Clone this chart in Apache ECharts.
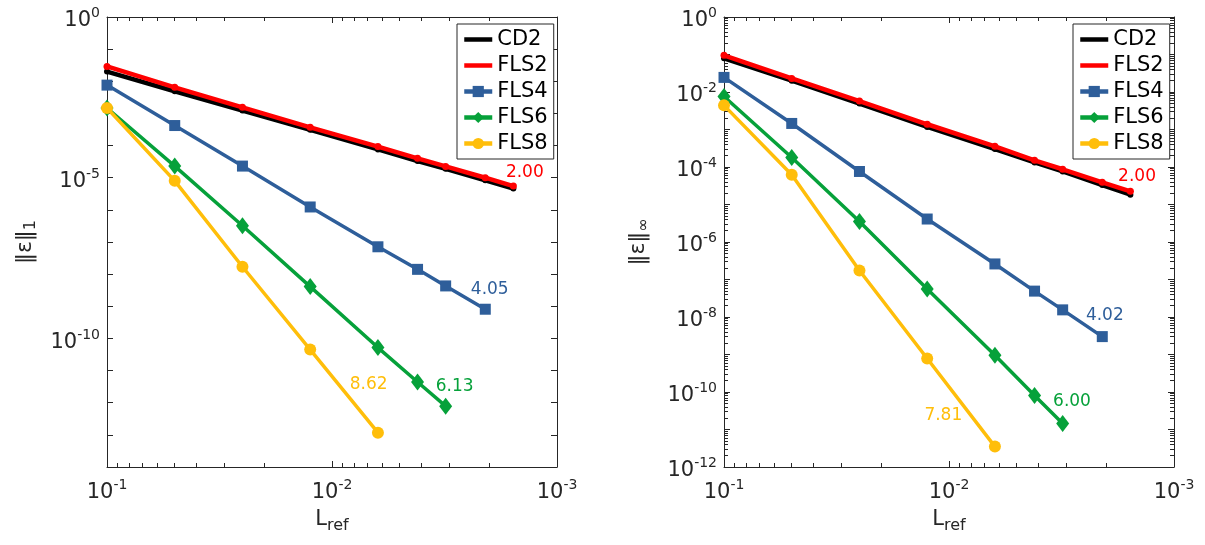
<!DOCTYPE html>
<html style="height: 100%">

<head>
    <meta charset="utf-8">
    <title>FLS convergence</title>
    <script type="text/javascript" src="https://cdn.jsdelivr.net/npm/echarts@6/dist/echarts.min.js"></script>
</head>

<body style="height: 100%; margin: 0; background: #fff">
    <div id="container" style="width: 1205px; height: 545px"></div>

    <script type="text/javascript">
        // grid spacing (x axis, both panels)
        var Lref = [0.1, 0.05, 0.025, 0.0125, 0.00625, 0.0041667, 0.003125, 0.0020833, 0.0015625];
        var names = ['CD2', 'FLS2', 'FLS4', 'FLS6', 'FLS8'];

        // ||e||_1 , left panel
        var cd2_L1 = [2.0e-2, 4.9e-3, 1.23e-3, 3.1e-4, 7.6e-5, 3.3e-5, 1.9e-5, 8.3e-6, 4.6e-6];
        var fls2_L1 = [2.9e-2, 6.5e-3, 1.55e-3, 3.7e-4, 9.3e-5, 4.0e-5, 2.24e-5, 1.0e-5, 5.5e-6];
        var fls4_L1 = [7.6e-3, 4.2e-4, 2.3e-5, 1.23e-6, 7.1e-8, 1.41e-8, 4.3e-9, 8.1e-10];
        var fls6_L1 = [1.48e-3, 2.3e-5, 3.2e-7, 4.1e-9, 5.2e-11, 4.4e-12, 7.8e-13];
        var fls8_L1 = [1.48e-3, 8.0e-6, 1.7e-8, 4.5e-11, 1.17e-13];

        // ||e||_inf , right panel
        var cd2_Linf = [7.9e-2, 2.0e-2, 4.9e-3, 1.17e-3, 3.0e-4, 1.32e-4, 7.6e-5, 3.3e-5, 1.82e-5];
        var fls2_Linf = [9.5e-2, 2.3e-2, 5.75e-3, 1.38e-3, 3.55e-4, 1.51e-4, 8.7e-5, 3.9e-5, 2.24e-5];
        var fls4_Linf = [2.45e-2, 1.45e-3, 7.6e-5, 4.1e-6, 2.6e-7, 4.9e-8, 1.55e-8, 3.0e-9];
        var fls6_Linf = [7.6e-3, 1.8e-4, 3.5e-6, 5.6e-8, 9.5e-10, 8.1e-11, 1.45e-11];
        var fls8_Linf = [4.4e-3, 6.2e-5, 1.74e-7, 7.8e-10, 3.5e-12];

        // convergence rates written next to the curves (FLS2, FLS4, FLS6, FLS8)
        var rate_L1 = ['2.00', '4.05', '6.13', '8.62'];
        var rate_Linf = ['2.00', '4.02', '6.00', '7.81'];
        // where the rate text sits, in data coordinates [L_ref, error]
        var rateAt_L1 = [[1.39e-3, 1.44e-5], [1.99e-3, 3.4e-9], [2.85e-3, 3.2e-12], [6.87e-3, 3.8e-12]];
        var rateAt_Linf = [[1.46e-3, 5.4e-5], [2.03e-3, 1.12e-8], [2.84e-3, 5.6e-11], [1.06e-2, 2.3e-11]];

        var font = 'DejaVu Sans';
        var axisColor = '#262626';
        var colors = ['#000000', '#ff0000', '#2e5e9a', '#06a13a', '#ffbe0a'];

        var supRich = {
            b: { fontFamily: font, fontSize: 21, lineHeight: 29, color: axisColor },
            s: { fontFamily: font, fontSize: 14, lineHeight: 12, verticalAlign: 'top', color: axisColor }
        };

        function powLabel(step) {
            return function (v) {
                var e = Math.round(Math.log10(v));
                if (e % step !== 0) return '';
                return '{b|10}{s|' + e + '}';
            };
        }

        function xAxis(g, pos) {
            return {
                type: 'log', logBase: 10, gridIndex: g, position: pos, inverse: true,
                min: 0.001, max: 0.1, interval: 1,
                axisLine: { show: true, onZero: false, lineStyle: { color: axisColor, width: 1 } },
                axisTick: { show: true, inside: true, length: 6, lineStyle: { color: axisColor } },
                minorTick: { show: true, splitNumber: 9, length: 4, lineStyle: { color: axisColor } },
                splitLine: { show: false },
                axisLabel: { show: pos === 'bottom', margin: 11, formatter: powLabel(1), rich: supRich },
                name: pos === 'bottom' ? '{a|L}{r|ref}' : '',
                nameLocation: 'middle', nameGap: 39,
                nameTextStyle: {
                    rich: {
                        a: { fontFamily: font, fontSize: 21, lineHeight: 28, color: axisColor },
                        r: { fontFamily: font, fontSize: 16, lineHeight: 10, verticalAlign: 'bottom', color: axisColor }
                    }
                }
            };
        }

        function yAxis(g, pos, minv, step, minor, title, gap) {
            return {
                type: 'log', logBase: 10, gridIndex: g, position: pos,
                min: minv, max: 1, interval: 1,
                axisLine: { show: true, onZero: false, lineStyle: { color: axisColor, width: 1 } },
                axisTick: { show: true, inside: true, length: 6, lineStyle: { color: axisColor } },
                minorTick: { show: minor, splitNumber: 9, length: 4, lineStyle: { color: axisColor } },
                splitLine: { show: false },
                axisLabel: { show: pos === 'left', margin: 7, padding: [8, 0, 0, 0], formatter: powLabel(step), rich: supRich },
                name: pos === 'left' ? title : '',
                nameLocation: 'middle', nameGap: gap,
                nameTextStyle: {
                    rich: {
                        a: { fontFamily: font, fontSize: 22, lineHeight: 28, color: axisColor },
                        s: { fontFamily: font, fontSize: 16, lineHeight: 10, verticalAlign: 'bottom', color: axisColor }
                    }
                }
            };
        }

        // symbol, size, line width
        var symbols = [['circle', 6, 4.5], ['circle', 7, 4.5], ['rect', 11, 3.5], ['diamond', [13, 17], 3.5], ['circle', 12, 3.5]];

        function makeSeries(panel, sets, rates, rateAt) {
            var out = [];
            for (var k = 0; k < sets.length; k++) {
                var arr = sets[k];
                var pts = [];
                for (var i = 0; i < arr.length; i++) {
                    pts.push([Lref[i], arr[i]]);
                }
                var s = {
                    name: names[k],
                    type: 'line',
                    xAxisIndex: panel * 2,
                    yAxisIndex: panel * 2,
                    data: pts,
                    symbol: symbols[k][0],
                    symbolSize: symbols[k][1],
                    showSymbol: true,
                    lineStyle: { color: colors[k], width: symbols[k][2] },
                    itemStyle: { color: colors[k] },
                    z: 2 + k,
                    animation: false
                };
                if (k > 0) {
                    s.markPoint = {
                        symbol: 'circle', symbolSize: 0, animation: false,
                        label: { show: true, formatter: rates[k - 1], color: colors[k], fontSize: 17, fontFamily: font },
                        data: [{ coord: rateAt[k - 1] }]
                    };
                }
                out.push(s);
            }
            return out;
        }

        function legend(left) {
            var items = [];
            for (var k = 0; k < names.length; k++) {
                // CD2/FLS2 only have a small dot marker, hidden under the thick line
                items.push(k < 2 ? { name: names[k], itemStyle: { opacity: 0 } } : { name: names[k] });
            }
            return {
                data: items, orient: 'vertical', left: left, top: 24,
                padding: [5, 6, 5, 5], itemGap: 5, itemWidth: 28, itemHeight: 14,
                borderColor: axisColor, borderWidth: 1, backgroundColor: '#fff',
                lineStyle: { width: 4.5 },
                textStyle: { fontFamily: font, fontSize: 21, lineHeight: 21, color: '#000' }
            };
        }

        var myChart = echarts.init(document.getElementById('container'));
        var option = {
            backgroundColor: '#fff',
            animation: false,
            grid: [
                { left: 107, top: 17, width: 450, height: 450 },
                { left: 724, top: 17, width: 450, height: 450 }
            ],
            xAxis: [xAxis(0, 'bottom'), xAxis(0, 'top'), xAxis(1, 'bottom'), xAxis(1, 'top')],
            yAxis: [
                yAxis(0, 'left', 1e-14, 5, false, '{a|‖ε‖}{s|1}', 68),
                yAxis(0, 'right', 1e-14, 5, false, '', 0),
                yAxis(1, 'left', 1e-12, 2, true, '{a|‖ε‖}{s|∞}', 72),
                yAxis(1, 'right', 1e-12, 2, true, '', 0)
            ],
            legend: [legend(457), legend(1073)],
            series: makeSeries(0, [cd2_L1, fls2_L1, fls4_L1, fls6_L1, fls8_L1], rate_L1, rateAt_L1)
                .concat(makeSeries(1, [cd2_Linf, fls2_Linf, fls4_Linf, fls6_Linf, fls8_Linf], rate_Linf, rateAt_Linf))
        };
        myChart.setOption(option, true);
    </script>
</body>

</html>
